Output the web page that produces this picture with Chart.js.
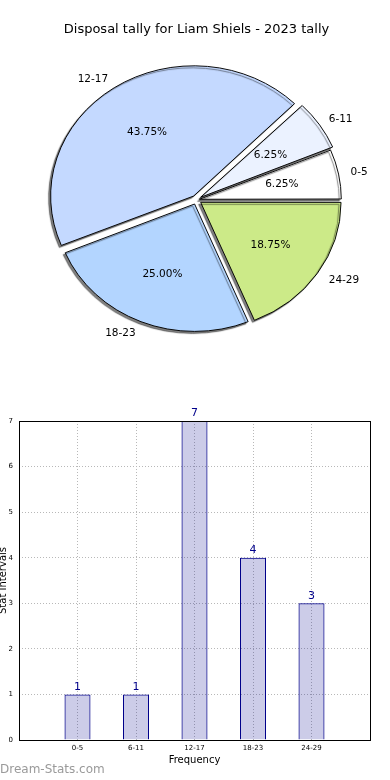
<!DOCTYPE html>
<html>
<head>
<meta charset="utf-8">
<script src="https://cdn.jsdelivr.net/npm/chart.js@4.4.0/dist/chart.umd.min.js"></script>
<style>
  html, body { margin: 0; padding: 0; background: #fff; }
  body { width: 390px; height: 780px; position: relative; overflow: hidden; font-family: "DejaVu Sans", sans-serif; }
  #pieBox { position: absolute; left: 0; top: 0; width: 390px; height: 380px; }
  #barBox { position: absolute; left: 0; top: 400px; width: 390px; height: 380px; }
  #mark { position: absolute; left: 0; top: 762px; font-size: 12px; color: #9a9a9a; z-index: 2; }
</style>
</head>
<body>
<div id="pieBox"><canvas id="pieChart"></canvas></div>
<div id="barBox"><canvas id="barChart"></canvas></div>
<div id="mark">Dream-Stats.com</div>
<script>
// === DATA ===
const categories = ["0-5", "6-11", "12-17", "18-23", "24-29"];
const tally = [1, 1, 7, 4, 3];
const pieColors = ["#ffffff", "#ebf2ff", "#c4d9ff", "#b3d5ff", "#ccea88"];
const explode = [3, 5, 5, 5, 5]; // px the slice is pushed out
const yTicks = [0, 1, 2, 3, 4, 5, 6, 7];

const FONT = "DejaVu Sans";
const SQUASH = 0.91; // pie is drawn a little flatter than a circle

const total = tally.reduce((a, b) => a + b, 0);
// chart.js goes clockwise, so feed the slices backwards and start at 3 o'clock
const pieLabels = categories.slice().reverse();
const pieValues = tally.slice().reverse();
const pieBg = pieColors.slice().reverse();
// chart.js v4 arcs only move offset/4, so scale up
const pieOffsets = explode.slice().reverse().map((e) => e * 4);

// === PIE: flatten arcs + shadows, then labels ===
const pieLook = {
  id: "pieLook",
  beforeDatasetsDraw(chart) {
    const { ctx, chartArea } = chart;
    const cy = (chartArea.top + chartArea.bottom) / 2;
    ctx.save();
    ctx.translate(0, cy);
    ctx.scale(1, SQUASH);
    ctx.translate(0, -cy);
    ctx.shadowColor = "rgba(0,0,0,0.5)";
    ctx.shadowOffsetX = -2;
    ctx.shadowOffsetY = 2;
    ctx.shadowBlur = 1;
  },
  afterDatasetsDraw(chart) {
    const { ctx, chartArea } = chart;
    ctx.restore();
    const cy = (chartArea.top + chartArea.bottom) / 2;
    const meta = chart.getDatasetMeta(0);
    ctx.save();
    ctx.font = "10.5px '" + FONT + "'";
    ctx.fillStyle = "#000";
    ctx.textBaseline = "middle";
    meta.data.forEach((arc, i) => {
      const p = arc.getProps(["x", "y", "startAngle", "endAngle", "outerRadius"], true);
      const mid = (p.startAngle + p.endAngle) / 2;
      const off = (arc.options.offset || 0) / 4;
      const at = (k) => {
        const d = off + k * p.outerRadius;
        return [p.x + Math.cos(mid) * d, cy + (p.y - cy + Math.sin(mid) * d) * SQUASH];
      };
      const pct = (pieValues[i] / total * 100).toFixed(2) + "%";
      let [px, py] = at(0.6);
      ctx.textAlign = "center";
      ctx.fillText(pct, px, py);
      [px, py] = at(1.1);
      ctx.textAlign = Math.cos(mid) < 0 ? "right" : "left";
      ctx.fillText(pieLabels[i], px, py);
    });
    ctx.restore();
  },
};

new Chart(document.getElementById("pieChart"), {
  type: "pie",
  data: {
    labels: pieLabels,
    datasets: [{
      data: pieValues,
      backgroundColor: pieBg,
      borderColor: "#000",
      borderWidth: 1,
      offset: pieOffsets,
      radius: 140,
    }],
  },
  options: {
    responsive: true,
    maintainAspectRatio: false,
    animation: false,
    rotation: 90,
    layout: { padding: { left: 3, right: 0, top: 0, bottom: 28 } },
    plugins: {
      legend: { display: false },
      tooltip: { enabled: false },
      title: {
        display: true,
        text: "Disposal tally for Liam Shiels - 2023 tally",
        color: "#000",
        font: { family: FONT, size: 13, weight: "normal" },
        padding: { top: 22, bottom: 10 },
      },
    },
  },
  plugins: [pieLook],
});

// === BAR: frame + value labels ===
const barLook = {
  id: "barLook",
  afterDatasetsDraw(chart) {
    const { ctx, chartArea } = chart;
    ctx.save();
    ctx.strokeStyle = "#000";
    ctx.lineWidth = 1;
    ctx.strokeRect(Math.round(chartArea.left) + 0.5, Math.round(chartArea.top) + 0.5,
      Math.round(chartArea.width), Math.round(chartArea.height));
    const meta = chart.getDatasetMeta(0);
    ctx.fillStyle = "#00008b";
    ctx.font = "11px '" + FONT + "'";
    ctx.textAlign = "center";
    ctx.textBaseline = "bottom";
    meta.data.forEach((bar, i) => {
      const v = chart.data.datasets[0].data[i];
      if (v == null) return;
      ctx.fillText(String(v), bar.x, bar.y - 2);
    });
    ctx.restore();
  },
};

// empty slots either side so the five bars sit in from the frame
const barLabels = [""].concat(categories, [""]);
const barValues = [null].concat(tally, [null]);

new Chart(document.getElementById("barChart"), {
  type: "bar",
  data: {
    labels: barLabels,
    datasets: [{
      data: barValues,
      backgroundColor: "rgba(0,0,139,0.2)",
      borderColor: "#00008b",
      borderWidth: 1,
      barPercentage: 0.445,
      categoryPercentage: 1,
    }],
  },
  options: {
    responsive: true,
    maintainAspectRatio: false,
    animation: false,
    layout: { padding: { top: 21, right: 20, left: 0, bottom: 0 } },
    plugins: { legend: { display: false }, tooltip: { enabled: false } },
    scales: {
      x: {
        offset: false,
        grid: { color: "#b8b8b8", drawTicks: false, offset: false },
        border: { display: false, dash: [1, 2] },
        ticks: { color: "#000", font: { family: FONT, size: 7 }, padding: 4, maxRotation: 0, autoSkip: false },
        title: { display: true, text: "Frequency", color: "#000", font: { family: FONT, size: 10 }, padding: { top: 0, bottom: 14 } },
        afterFit(scale) { scale.height = 40; },
      },
      y: {
        min: yTicks[0],
        max: yTicks[yTicks.length - 1],
        afterBuildTicks(scale) { scale.ticks = yTicks.map((v) => ({ value: v })); },
        grid: { color: "#b8b8b8", drawTicks: false },
        border: { display: false, dash: [1, 2] },
        ticks: { color: "#000", font: { family: FONT, size: 7 }, padding: 6 },
        title: { display: true, text: "Stat Intervals", color: "#000", font: { family: FONT, size: 10 }, padding: { top: -3, bottom: 0 } },
        afterFit(scale) { scale.width = 19; },
      },
    },
  },
  plugins: [barLook],
});
</script>
</body>
</html>
